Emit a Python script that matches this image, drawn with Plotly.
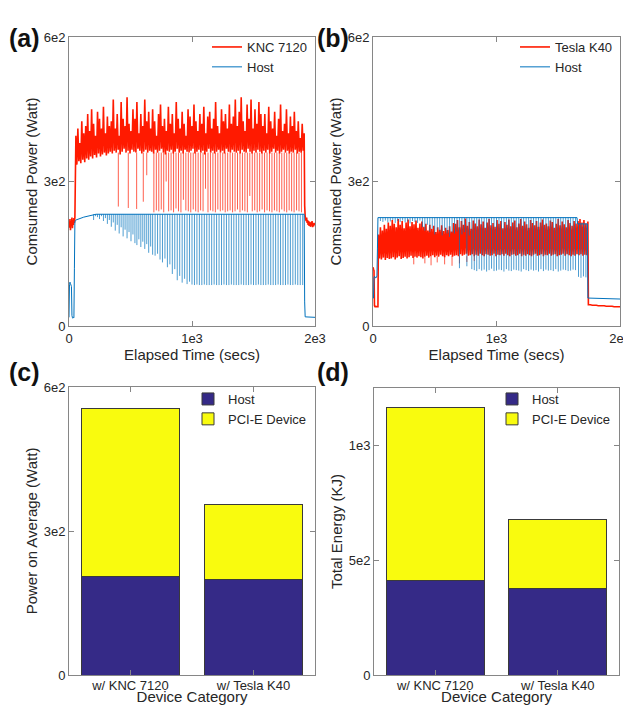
import plotly.graph_objects as go

# ---------------------------------------------------------------- data
# Panel (a): KNC 7120 run  (time in s, power in W)
knc_idle_start, knc_idle_step = 0, 4
knc_idle = [215, 204, 222, 199, 218, 208, 225, 203, 220, 210, 224, 214, 226]
knc_band_start, knc_band_step = 56, 16          # peaks; troughs sit half a step later
knc_peaks = [395, 410, 380, 425, 400, 415,
             440, 405, 450, 420, 395, 445, 430, 410, 455, 400, 435, 415,
             425, 470, 410, 440, 395, 465, 430, 415, 475, 420, 405, 450, 430, 465, 400, 440, 415, 470, 425, 445,
             410, 450, 425, 395, 440, 460, 415, 430, 405, 455, 420, 440, 400, 465, 430, 410, 445, 420, 395, 450,
             435, 415, 460, 425, 405, 440, 420, 455, 400, 435, 445, 410, 430, 465, 415, 400, 450, 425, 440, 410,
             460, 420, 435,
             470, 415, 445, 475, 425, 405, 460, 430, 470, 410, 450, 420, 465, 440,
             415, 440, 400, 455, 425, 410, 445, 395, 430, 460, 405, 420, 450, 400, 435, 415, 445, 405, 425, 390,
             420, 400]
knc_troughs = [335, 342, 338, 345, 340, 348,
               345, 352, 348, 355, 350, 358, 352, 356, 360, 354, 358, 362,
               358, 364, 360, 366, 356, 362, 368, 360, 364, 358, 366, 362, 360, 368, 364, 358, 362, 366, 360, 364,
               362, 358, 366, 360, 364, 368, 360, 356, 364, 362, 366, 358, 362, 368, 360, 364, 358, 366, 362, 360,
               364, 368, 358, 362, 366, 360, 364, 356, 362, 368, 360, 364, 358, 362, 366, 360, 364, 358, 368, 362,
               360, 366, 362,
               360, 364, 358, 366, 362, 360, 368, 362, 358, 364, 360, 366, 362, 358,
               364, 360, 366, 358, 362, 368, 360, 364, 358, 362, 366, 360, 364, 358, 362, 360, 366, 358, 362, 360,
               364]
knc_drop_t = [401, 482, 550, 604, 632,
              690, 710, 730, 750, 770, 790, 810, 830, 850, 870, 890, 910, 930, 950, 970, 990,
              1010, 1030, 1050, 1070, 1090, 1110, 1130, 1150, 1170, 1190, 1210, 1230, 1250, 1270, 1290,
              1310, 1330, 1350, 1370, 1390, 1410, 1430, 1450, 1470, 1490, 1510, 1530, 1550, 1570, 1590,
              1610, 1630, 1650, 1670, 1690, 1710, 1730, 1750, 1770, 1790, 1810, 1830, 1850, 1870, 1890]
knc_drop_v = [248, 245, 243, 258, 313,
              236, 240, 238, 242, 236, 300, 238, 240, 236, 244, 238, 236, 262, 240, 238, 236,
              242, 238, 236, 240, 238, 285, 236, 240, 238, 236, 242, 238, 240, 236, 238,
              240, 236, 238, 242, 236, 240, 238, 236, 270, 238, 240, 236, 238, 242, 236,
              240, 238, 236, 240, 238, 236, 242, 238, 236, 240, 238, 236, 240, 238, 236]
knc_drop_from = 360
knc_tail_start, knc_tail_step = 1916, 4
knc_tail = [250, 228, 222, 218, 225, 214, 220, 210, 218, 208, 216, 212, 206, 215, 209, 218, 205, 213,
            207, 214, 210, 212]

host_a_lead_start, host_a_lead_step = 0, 4
host_a_lead = [18, 86, 91, 88, 85, 82, 22, 17, 16, 18, 17, 120, 216, 219]
host_a_base_t = [56, 120, 220, 1912, 1916, 1920, 2000]
host_a_base_v = [220, 226, 232, 232, 50, 19, 18]
host_a_top = 232
host_a_dip1_start, host_a_dip1_step = 200, 16
host_a_dip1 = [220, 228, 226, 222, 228, 218, 224, 212, 220, 206, 215, 198, 210, 192, 205, 186, 200, 182,
               195, 176, 190, 172, 168, 180, 164, 175, 160, 170, 152, 165, 148]
host_a_dip2_start, host_a_dip2_step = 700, 20
host_a_dip2 = [146, 150, 138, 132, 140, 122, 128, 108, 118, 95, 104, 90, 98, 87, 92, 86,
               85, 86, 85, 85, 86, 85, 85, 85, 86, 85, 85, 85, 86, 85, 85, 86, 85, 85, 85, 86,
               85, 85, 85, 86, 85, 85, 86, 85, 85, 85, 86, 85, 85, 85, 86, 85, 85, 85, 86, 85,
               85, 86, 85, 85, 85]

# Panel (b): Tesla K40 run
k40_idle_start, k40_idle_step = 0, 4
k40_idle = [122, 118, 115, 42, 40, 40, 41, 40, 40, 40, 40]
k40_band_start, k40_band_step = 44, 16
k40_peaks = [190, 205, 198, 210, 202, 215,
             208, 220, 212, 205, 222, 210, 218, 203, 215, 221, 207, 216, 211, 219, 204, 213, 217,
             206, 212, 198, 210, 202, 208, 195, 205, 200, 209, 197, 204, 199, 207, 196, 214,
             212, 220, 205, 218, 210, 223, 208, 216, 202, 219, 213, 207, 221, 211, 217, 204, 215, 222, 209, 214,
             206, 220, 212, 218, 203, 216, 210, 221, 207, 215, 219, 205, 213, 222, 208, 217, 211, 204, 220, 214,
             209, 218, 206, 215, 221, 210, 213, 207, 219, 216, 204, 212, 222, 209, 217, 211, 205, 220, 214, 208,
             218, 213,
             218, 222, 215, 220, 213, 217]
k40_troughs = [140, 138, 142, 137, 141, 139,
               140, 143, 138, 142, 145, 139, 141, 144, 140, 143, 146, 141, 144, 142, 145, 143, 140,
               144, 146, 142, 145, 147, 143, 146, 144, 148, 145, 143, 147, 145, 148, 144, 146,
               147, 145, 149, 146, 148, 150, 146, 147, 149, 145, 148, 146, 150, 147, 145, 149, 148, 146, 147, 150,
               145, 148, 147, 149, 146, 150, 147, 145, 148, 149, 146, 147, 150, 145, 148, 146, 149, 147, 145, 148,
               150, 146, 147, 149, 145, 148, 147, 150, 146, 148, 149, 145, 147, 148, 150, 146, 149, 147, 145, 148,
               146, 149,
               147, 149, 146, 148, 147]
k40_drop_t = [330, 420, 470, 520, 580, 640, 700, 760, 820]
k40_drop_v = [128, 130, 126, 132, 128, 125, 130, 133, 135]
k40_drop_from = 145
k40_tail_start, k40_tail_step = 1744, 16
k40_tail = [44, 44, 43, 43, 43, 42, 42, 42, 42, 41, 41, 41, 41, 40, 40, 40, 40]

host_b_lead_start, host_b_lead_step = 0, 4
host_b_lead = [57, 58, 100, 103, 101, 100, 102, 101, 104, 160]
host_b_base_t = [40, 1652, 1656, 1736, 1740, 2000]
host_b_base_v = [225, 225, 212, 212, 58, 56]
host_b_top1 = 225
host_b_dip1_start, host_b_dip1_step = 60, 20
host_b_dip1 = [218, 216, 219, 215, 217, 220, 214, 218, 216, 219, 215, 217, 213, 218, 216, 214, 219,
               205, 198, 210, 195, 202, 190, 200, 196, 188, 198, 192, 185, 194,
               192, 196, 120, 190, 195, 124, 188, 118,
               116, 114, 118, 115, 117, 113, 116, 119, 114, 115, 117, 116, 113, 118, 115, 114, 117, 116,
               115, 113, 118, 116, 114, 117, 115, 116, 113, 118, 114, 117, 115, 116, 114, 118, 113, 115,
               117, 116, 114, 115, 117, 116]
host_b_top2 = 212
host_b_dip2_start, host_b_dip2_step = 1664, 20
host_b_dip2 = [102, 100, 103, 101]

# Panels (c) and (d): averages and totals
categories = ["w/ KNC 7120", "w/ Tesla K40"]
avg_power_host = [205, 200]
avg_power_device = [351, 156]
energy_host = [412, 378]
energy_device = [752, 299]

# ---------------------------------------------------------------- helpers
def grid(start, step, values):
    return [start + step * i for i in range(len(values))]


def merged(*parts):
    pts = []
    for ts, vs in parts:
        pts += list(zip(ts, vs))
    pts.sort()
    return [p[0] for p in pts], [p[1] for p in pts]


def segments(ts, vs, top):
    xs, ys = [], []
    for t, v in zip(ts, vs):
        xs += [t, t, None]
        ys += [top, v, None]
    return xs, ys


RED = "#ff1a00"
BLUE = "#0072bd"
NAVY = "#352a87"
YELLOW = "#f9fb0e"
AX = "#868686"
TXT = "#262626"
FONT = "Liberation Sans, Arial, Helvetica, sans-serif"
BAND_W = 1.6

fig = go.Figure()

# ---- (a)
kx, ky = merged(
    (grid(knc_idle_start, knc_idle_step, knc_idle), knc_idle),
    (grid(knc_band_start, knc_band_step, knc_peaks), knc_peaks),
    (grid(knc_band_start + knc_band_step // 2, knc_band_step, knc_troughs), knc_troughs),
    (grid(knc_tail_start, knc_tail_step, knc_tail), knc_tail),
)
fig.add_trace(go.Scatter(x=kx, y=ky, mode="lines", name="KNC 7120",
                         line=dict(color=RED, width=BAND_W, simplify=False),
                         xaxis="x", yaxis="y", legend="legend"))
sx, sy = segments(knc_drop_t, knc_drop_v, knc_drop_from)
fig.add_trace(go.Scatter(x=sx, y=sy, mode="lines", showlegend=False,
                         line=dict(color=RED, width=0.7, simplify=False),
                         xaxis="x", yaxis="y"))
hx, hy = merged(
    (grid(host_a_lead_start, host_a_lead_step, host_a_lead), host_a_lead),
    (host_a_base_t, host_a_base_v),
)
fig.add_trace(go.Scatter(x=hx, y=hy, mode="lines", name="Host",
                         line=dict(color=BLUE, width=1, simplify=False),
                         xaxis="x", yaxis="y", legend="legend"))
d1x, d1y = segments(grid(host_a_dip1_start, host_a_dip1_step, host_a_dip1), host_a_dip1, host_a_top)
d2x, d2y = segments(grid(host_a_dip2_start, host_a_dip2_step, host_a_dip2), host_a_dip2, host_a_top)
fig.add_trace(go.Scatter(x=d1x + d2x, y=d1y + d2y, mode="lines", showlegend=False,
                         line=dict(color=BLUE, width=0.7, simplify=False),
                         xaxis="x", yaxis="y"))

# ---- (b)
tx, ty = merged(
    (grid(k40_idle_start, k40_idle_step, k40_idle), k40_idle),
    (grid(k40_band_start, k40_band_step, k40_peaks), k40_peaks),
    (grid(k40_band_start + k40_band_step // 2, k40_band_step, k40_troughs), k40_troughs),
    (grid(k40_tail_start, k40_tail_step, k40_tail), k40_tail),
)
fig.add_trace(go.Scatter(x=tx, y=ty, mode="lines", name="Tesla K40",
                         line=dict(color=RED, width=BAND_W, simplify=False),
                         xaxis="x2", yaxis="y2", legend="legend2"))
sx, sy = segments(k40_drop_t, k40_drop_v, k40_drop_from)
fig.add_trace(go.Scatter(x=sx, y=sy, mode="lines", showlegend=False,
                         line=dict(color=RED, width=0.7, simplify=False),
                         xaxis="x2", yaxis="y2"))
hbx, hby = merged(
    (grid(host_b_lead_start, host_b_lead_step, host_b_lead), host_b_lead),
    (host_b_base_t, host_b_base_v),
)
fig.add_trace(go.Scatter(x=hbx, y=hby, mode="lines", name="Host",
                         line=dict(color=BLUE, width=1, simplify=False),
                         xaxis="x2", yaxis="y2", legend="legend2"))
e1x, e1y = segments(grid(host_b_dip1_start, host_b_dip1_step, host_b_dip1), host_b_dip1, host_b_top1)
e2x, e2y = segments(grid(host_b_dip2_start, host_b_dip2_step, host_b_dip2), host_b_dip2, host_b_top2)
fig.add_trace(go.Scatter(x=e1x + e2x, y=e1y + e2y, mode="lines", showlegend=False,
                         line=dict(color=BLUE, width=0.7, simplify=False),
                         xaxis="x2", yaxis="y2"))

# ---- (c), (d)
bar_line = dict(color="#3a3a3a", width=1)
fig.add_trace(go.Bar(x=categories, y=avg_power_host, name="Host", marker=dict(color=NAVY, line=bar_line),
                     xaxis="x3", yaxis="y3", legend="legend3"))
fig.add_trace(go.Bar(x=categories, y=avg_power_device, name="PCI-E Device",
                     marker=dict(color=YELLOW, line=bar_line),
                     xaxis="x3", yaxis="y3", legend="legend3"))
fig.add_trace(go.Bar(x=categories, y=energy_host, name="Host", marker=dict(color=NAVY, line=bar_line),
                     xaxis="x4", yaxis="y4", legend="legend4"))
fig.add_trace(go.Bar(x=categories, y=energy_device, name="PCI-E Device",
                     marker=dict(color=YELLOW, line=bar_line),
                     xaxis="x4", yaxis="y4", legend="legend4"))

# ---------------------------------------------------------------- layout
# the page body adds an 8px margin, so the figure is 8px smaller and all
# page-pixel positions are shifted by that offset
OFF = 8
W, H = 631 - OFF, 705 - OFF


def px_x(a, b):
    return [(a - OFF) / W, (b - OFF) / W]


def px_y(top, bottom):
    return [1 - (bottom - OFF) / H, 1 - (top - OFF) / H]


def axis(**kw):
    d = dict(showline=True, linecolor=AX, linewidth=1, mirror="ticks", ticks="inside",
             ticklen=5, tickcolor=AX, showgrid=False, zeroline=False, automargin=False,
             ticklabeloverflow="allow",
             tickfont=dict(size=13, color=TXT, family=FONT),
             title_font=dict(size=15, color=TXT, family=FONT))
    d.update(kw)
    return d


time_ticks = dict(tickvals=[0, 1000, 2000], ticktext=["0", "1e3", "2e3"], range=[0, 2000])
pow_ticks = dict(tickvals=[0, 300, 600], ticktext=["0", "3e2", "6e2"], range=[0, 600])


def legend_at(xr, yt):
    return dict(x=(xr - OFF) / W, y=1 - (yt - OFF) / H, xanchor="right", yanchor="top",
                bgcolor="rgba(0,0,0,0)", borderwidth=0, itemwidth=30, traceorder="normal",
                font=dict(size=13, color=TXT, family=FONT), tracegroupgap=0)


fig.update_layout(
    width=W, height=H, margin=dict(l=0, r=0, t=0, b=0),
    paper_bgcolor="white", plot_bgcolor="white",
    font=dict(family=FONT, color=TXT),
    barmode="stack", bargap=0.2,
    xaxis=axis(domain=px_x(69, 315), anchor="y", title=dict(text="Elapsed Time (secs)", standoff=2), **time_ticks),
    yaxis=axis(domain=px_y(37, 326), anchor="x", title=dict(text="Comsumed Power (Watt)", standoff=2), **pow_ticks),
    xaxis2=axis(domain=px_x(373, 620), anchor="y2", title=dict(text="Elapsed Time (secs)", standoff=2), **time_ticks),
    yaxis2=axis(domain=px_y(37, 326), anchor="x2", title=dict(text="Comsumed Power (Watt)", standoff=2), **pow_ticks),
    xaxis3=axis(domain=px_x(69, 315), anchor="y3", range=[-0.5, 1.5], ticklabelstandoff=-2,
                title=dict(text="Device Category", standoff=0)),
    yaxis3=axis(domain=px_y(387, 675), anchor="x3", range=[0, 600], tickvals=[0, 300, 600],
                ticktext=["0", "3e2", "6e2"], title=dict(text="Power on Average (Watt)", standoff=2)),
    xaxis4=axis(domain=px_x(374, 619), anchor="y4", range=[-0.5, 1.5], ticklabelstandoff=-2,
                title=dict(text="Device Category", standoff=0)),
    yaxis4=axis(domain=px_y(388, 675), anchor="x4", range=[0, 1250], tickvals=[0, 500, 1000],
                ticktext=["0", "5e2", "1e3"], title=dict(text="Total Energy (KJ)", standoff=2)),
    legend=legend_at(312, 32),
    legend2=legend_at(618, 32),
    legend3=legend_at(312, 384),
    legend4=legend_at(616, 384),
    showlegend=True,
)

for label, x, y in [("(a)", 7, 38), ("(b)", 315, 38), ("(c)", 7, 372), ("(d)", 315, 372)]:
    fig.add_annotation(text="<b>%s</b>" % label, x=(x - OFF) / W, y=1 - (y - OFF) / H,
                       xref="paper", yref="paper",
                       xanchor="left", yanchor="middle", showarrow=False,
                       font=dict(size=25, color="#111111", family=FONT))

fig.write_html("out.html")
